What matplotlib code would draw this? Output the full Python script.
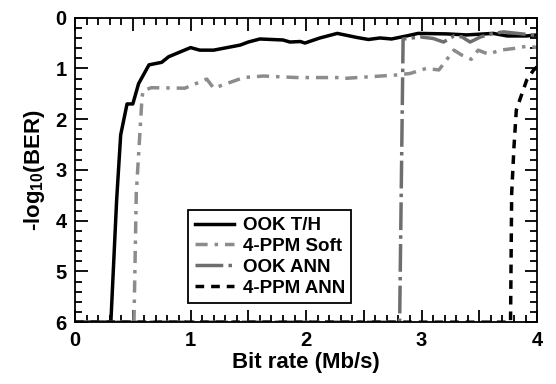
import numpy as np
import matplotlib.pyplot as plt
from matplotlib.ticker import MultipleLocator, FuncFormatter

# bit rate (Mb/s) and -log10(BER)
ook_th_x = [0.0, 0.31, 0.36, 0.395, 0.45, 0.5, 0.55, 0.64, 0.75, 0.81, 1.0, 1.08, 1.2,
            1.43, 1.5, 1.6, 1.8, 1.86, 1.95, 1.99, 2.12, 2.27, 2.44, 2.54, 2.64, 2.74,
            2.87, 2.97, 3.22, 3.39, 3.62, 3.74, 3.91, 4.0]
ook_th_y = [6.0, 6.0, 3.59, 2.31, 1.70, 1.70, 1.30, 0.93, 0.88, 0.77, 0.59, 0.64, 0.64,
            0.54, 0.48, 0.42, 0.44, 0.48, 0.47, 0.50, 0.40, 0.31, 0.39, 0.43, 0.40, 0.42,
            0.36, 0.31, 0.32, 0.34, 0.31, 0.36, 0.36, 0.34]

ppm_soft_x = [0.0, 0.51, 0.53, 0.58, 0.59, 0.66, 0.95, 1.14, 1.2, 1.46, 1.63, 1.92, 2.29,
              2.31, 2.78, 2.90, 3.04, 3.15, 3.28, 3.35, 3.43, 3.49, 3.58, 3.68, 3.79,
              3.92, 4.0]
ppm_soft_y = [6.0, 6.0, 3.46, 1.56, 1.44, 1.38, 1.39, 1.21, 1.39, 1.18, 1.15, 1.18, 1.18,
              1.20, 1.13, 1.10, 1.00, 1.03, 0.64, 0.74, 0.82, 0.64, 0.72, 0.64, 0.61,
              0.56, 0.59]

ook_ann_x = [0.0, 2.81, 2.84, 2.99, 3.10, 3.19, 3.28, 3.35, 3.42, 3.51, 3.62, 3.71, 3.79,
             3.91, 4.0]
ook_ann_y = [6.0, 6.0, 0.42, 0.38, 0.41, 0.48, 0.36, 0.38, 0.48, 0.38, 0.31, 0.28, 0.30,
             0.33, 0.35]

ppm_ann_x = [0.0, 3.77, 3.78, 3.80, 3.82, 3.87, 3.91, 3.97, 4.0]
ppm_ann_y = [6.0, 6.0, 3.46, 2.54, 1.82, 1.49, 1.23, 1.03, 0.97]

plt.rcParams['font.family'] = ['Liberation Sans', 'DejaVu Sans']
plt.rcParams['font.weight'] = 'bold'
plt.rcParams['mathtext.fontset'] = 'custom'
plt.rcParams['mathtext.rm'] = 'Liberation Sans:bold'
plt.rcParams['mathtext.it'] = 'Liberation Sans:bold'
plt.rcParams['mathtext.bf'] = 'Liberation Sans:bold'

fig = plt.figure(figsize=(5.56, 3.84), dpi=100)
ax = fig.add_axes([0.135, 0.161, 0.831, 0.793])

lw = 2.5
ax.plot(ook_th_x, ook_th_y, color='black', lw=lw, label='OOK T/H')
ax.plot(ppm_soft_x, ppm_soft_y, color='#8c8c8c', lw=lw, dashes=(3.5, 2, 1, 2),
        label='4-PPM Soft')
ax.plot(ook_ann_x, ook_ann_y, color='#6e6e6e', lw=lw, dashes=(8, 1.5, 1, 1.5),
        label='OOK ANN')
ax.plot(ppm_ann_x, ppm_ann_y, color='black', lw=lw, dashes=(2.5, 2),
        label='4-PPM ANN')

ax.set_xlim(0, 4)
ax.set_ylim(6, 0)

ax.xaxis.set_major_locator(MultipleLocator(0.5))
ax.xaxis.set_minor_locator(MultipleLocator(0.1))
ax.xaxis.set_major_formatter(FuncFormatter(lambda v, p: '%d' % v if abs(v - round(v)) < 1e-6 else ''))
ax.yaxis.set_major_locator(MultipleLocator(1))
ax.yaxis.set_minor_locator(MultipleLocator(0.2))

for s in ax.spines.values():
    s.set_linewidth(1.3)

ax.set_xlabel('Bit rate (Mb/s)', fontsize=16, fontweight='bold', labelpad=2)
ax.set_ylabel('-log$_{10}$(BER)', fontsize=16, fontweight='bold', labelpad=6)

leg = ax.legend(loc='lower left', bbox_to_anchor=(0.245, 0.062), borderaxespad=0,
                fontsize=13.5, frameon=True, fancybox=False, edgecolor='black',
                handlelength=2.1, borderpad=0.35, labelspacing=0.2,
                handletextpad=0.45, framealpha=1)
leg.get_frame().set_linewidth(1.3)

ax.tick_params(which='both', direction='in', top=True, right=True, width=1.3,
               color='black', labelsize=14.5)
ax.tick_params(which='major', length=9, pad=6)
ax.tick_params(which='minor', length=5)

fig.savefig('out.png', dpi=100)
